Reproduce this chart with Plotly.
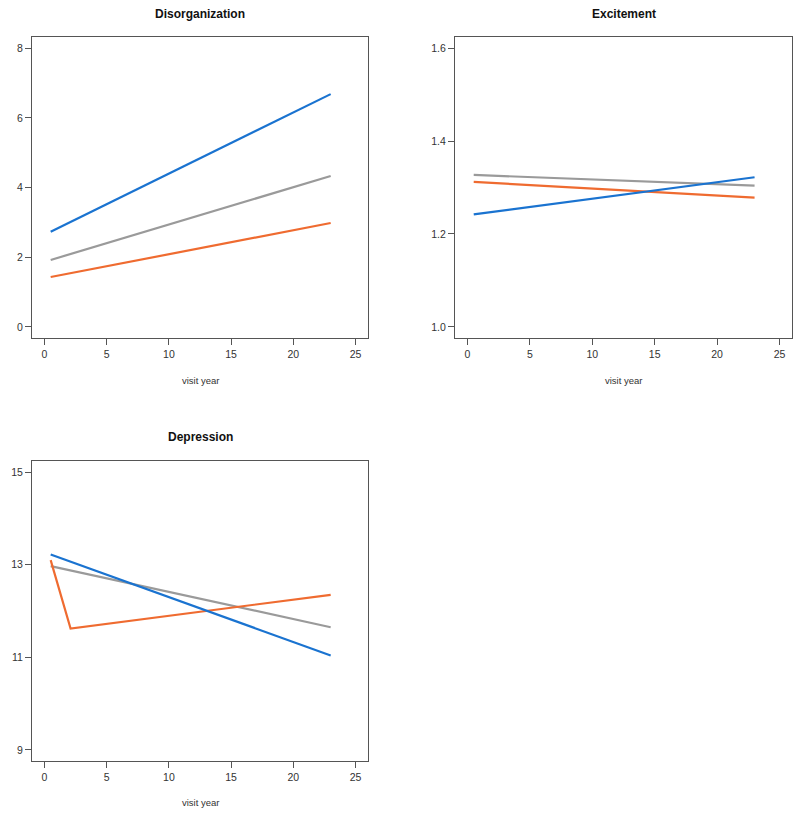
import plotly.graph_objects as go

# ---- data ----
visit_x = [0.5, 23]
depr_orange_x = [0.5, 2.1, 23]

disorg_blue = [2.73, 6.68]
disorg_gray = [1.92, 4.33]
disorg_orange = [1.43, 2.98]

excit_blue = [1.242, 1.322]
excit_gray = [1.327, 1.304]
excit_orange = [1.312, 1.278]

depr_blue = [13.22, 11.04]
depr_gray = [12.97, 11.65]
depr_orange = [13.10, 11.62, 12.35]

panel_titles = ["Disorganization", "Excitement", "Depression"]
x_label = "visit year"
x_ticks = [0, 5, 10, 15, 20, 25]
disorg_yticks = [0, 2, 4, 6, 8]
excit_yticks = [1.0, 1.2, 1.4, 1.6]
depr_yticks = [9, 11, 13, 15]

BLUE = "#1a73d0"
GRAY = "#9a9a9a"
ORANGE = "#ef6b30"

fig = go.Figure()

def add(x, y, color, xa, ya):
    fig.add_trace(go.Scatter(x=x, y=y, mode="lines", xaxis=xa, yaxis=ya,
                             line=dict(color=color, width=2.2),
                             showlegend=False, hoverinfo="skip"))

# panel 1
add(visit_x, disorg_gray, GRAY, "x", "y")
add(visit_x, disorg_orange, ORANGE, "x", "y")
add(visit_x, disorg_blue, BLUE, "x", "y")
# panel 2
add(visit_x, excit_gray, GRAY, "x2", "y2")
add(visit_x, excit_orange, ORANGE, "x2", "y2")
add(visit_x, excit_blue, BLUE, "x2", "y2")
# panel 3
add(visit_x, depr_gray, GRAY, "x3", "y3")
add(depr_orange_x, depr_orange, ORANGE, "x3", "y3")
add(visit_x, depr_blue, BLUE, "x3", "y3")

W, H = 800, 819
axcol = "#555555"
tickfont = dict(family="Liberation Sans, Arial, sans-serif", size=10.5, color="#333333")

def xax(dom, anchor):
    return dict(domain=dom, anchor=anchor, range=[-1, 26], tickvals=x_ticks,
                ticks="outside", ticklen=6, tickcolor=axcol, tickwidth=1,
                showline=True, linecolor=axcol, linewidth=1, mirror=True,
                showgrid=False, zeroline=False, tickfont=tickfont, fixedrange=True)

def yax(dom, anchor, lo, hi, tv, fmt=None):
    ext = (hi - lo) * 0.04
    d = dict(domain=dom, anchor=anchor, range=[lo - ext, hi + ext], tickvals=tv,
             ticks="outside", ticklen=6, tickcolor=axcol, tickwidth=1,
             showline=True, linecolor=axcol, linewidth=1, mirror=True,
             showgrid=False, zeroline=False, tickfont=tickfont, fixedrange=True)
    if fmt:
        d["tickformat"] = fmt
    return d

p1x = [32 / W, 368 / W]
p2x = [455 / W, 792 / W]
top_y = [1 - 338 / H, 1 - 37 / H]
bot_y = [1 - 761 / H, 1 - 461 / H]

fig.update_layout(
    width=W, height=H,
    margin=dict(l=0, r=0, t=0, b=0),
    paper_bgcolor="white", plot_bgcolor="white",
    xaxis=xax(p1x, "y"),
    yaxis=yax(top_y, "x", 0, 8, disorg_yticks),
    xaxis2=xax(p2x, "y2"),
    yaxis2=yax(top_y, "x2", 1.0, 1.6, excit_yticks, ".1f"),
    xaxis3=xax(p1x, "y3"),
    yaxis3=yax(bot_y, "x3", 9, 15, depr_yticks),
)

titlefont = dict(family="Liberation Sans, Arial, sans-serif", size=12, color="#111111")
labfont = dict(family="Liberation Sans, Arial, sans-serif", size=9.5, color="#333333")

centers = [(200, 14, 380), (623.5, 14, 380), (200, 437, 802)]
for (cx, ty, ly), t in zip(centers, panel_titles):
    fig.add_annotation(x=cx / W, y=1 - ty / H, xref="paper", yref="paper",
                       text="<b>" + t + "</b>", showarrow=False, font=titlefont,
                       xanchor="center", yanchor="middle")
    fig.add_annotation(x=cx / W, y=1 - ly / H, xref="paper", yref="paper",
                       text=x_label, showarrow=False, font=labfont,
                       xanchor="center", yanchor="middle")

fig.write_html("out.html", config={"displayModeBar": False},
               post_script="document.body.style.margin='0';document.body.style.overflow='hidden';")
